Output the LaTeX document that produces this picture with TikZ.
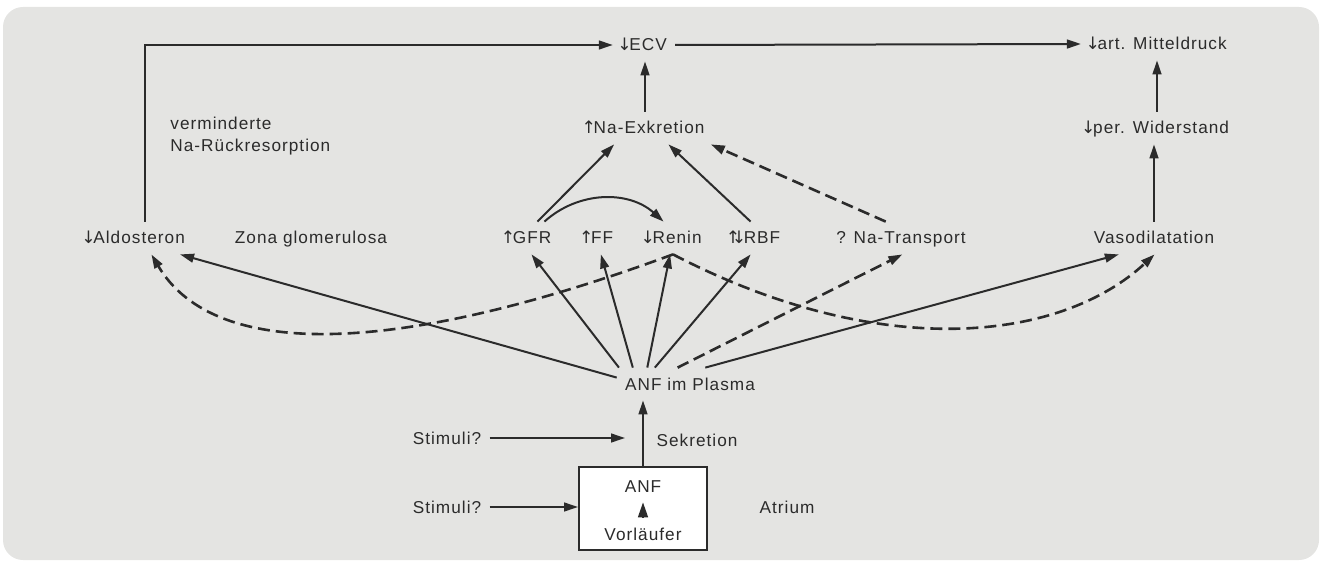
\documentclass[tikz,border=0pt]{standalone}
\usepackage{fontspec}
\setmainfont{Liberation Sans}[LetterSpace=6]
\newfontfamily\arrfont{DejaVu Sans}
\usetikzlibrary{arrows.meta}
\definecolor{bgcol}{HTML}{E4E4E2}
\definecolor{ink}{HTML}{2B2B2B}
\newcommand{\pfauf}{{\arrfont\kern-0.22em↑\kern-0.14em}}
\newcommand{\pfab}{{\arrfont\kern-0.22em↓\kern-0.14em}}
\tikzset{
  txt/.style={inner sep=4pt, text height=7pt, text depth=1pt, text=ink},
  arr/.style={draw=ink, line width=1pt, -{Triangle[length=7pt,width=4.4pt]}},
  darr/.style={arr, dash pattern=on 6pt off 3pt, line width=1.3pt},
}
\begin{document}
\begin{tikzpicture}[x=0.5pt, y=-0.5pt, font=\fontsize{8.6}{11}\selectfont]
	% Draw the background
	\useasboundingbox (0,0) rectangle (1325,566);
	\fill [bgcol, rounded corners=10pt] (3,7) rectangle (1319,560);

	% Draw the top row
	\node [txt] (ecv) at (644,45) {\pfab ECV};
	\node [txt] (druck) at (1158,44) {\pfab art. Mitteldruck};
	\node [txt] (naex) at (645,128) {\pfauf Na-Exkretion};
	\node [txt] (wider) at (1157,128) {\pfab per. Widerstand};
	\node [anchor=west, align=left, inner sep=0pt, text=ink] (rueck) at (170,136) {verminderte\\Na-Rückresorption};

	% Draw the middle row
	\node [txt] (aldo) at (135,238) {\pfab Aldosteron};
	\node [txt] (zona) at (311,238) {Zona glomerulosa};
	\node [txt] (gfr) at (528,238) {\pfauf GFR};
	\node [txt] (ff) at (598,238) {\pfauf FF};
	\node [txt] (renin) at (673,238) {\pfab Renin};
	\node [txt] (rbf) at (755,238) {{\arrfont\kern-0.22em↑\kern-0.5em↓\kern-0.14em}RBF};
	\node [txt] (natr) at (901,238) {? Na-Transport};
	\node [txt] (vaso) at (1154,238) {Vasodilatation};

	% Draw the bottom part
	\node [txt] (plasma) at (690,384) {ANF im Plasma};
	\node [txt] (sekr) at (697,440) {Sekretion};
	\node [txt] (stimA) at (447,438) {Stimuli?};
	\node [txt] (stimB) at (447,507) {Stimuli?};
	\node [draw=ink, line width=1pt, fill=white, minimum width=64pt, minimum height=41.5pt] (atr) at (643,508.5) {};
	\node [txt] (anf) at (643,486) {ANF};
	\node [txt] (vorl) at (643,534) {Vorläufer};
	\node [txt] (atrium) at (787,507) {Atrium};

	% Draw the upper arrows
	\draw [arr] ([xshift=5pt]aldo.north) |- (ecv.west);
	\draw [arr] (ecv.east) -- (druck.west);
	\draw [arr] (naex.north) -- (naex.north |- ecv.south);
	\draw [arr] (wider.north) -- (wider.north |- druck.south);
	\draw [arr] (vaso.north) -- (vaso.north |- wider.south);
	\draw [arr] (gfr.60) -- (naex.208);
	\draw [arr] (gfr.45) to[bend left=42] (renin.120);
	\draw [arr] (rbf.105) -- (naex.-35);
	\draw [darr] (natr.133) -- (naex.-14);

	% Draw the arrows from the plasma
	\draw [arr] (plasma.175) -- (aldo.-20);
	\draw [arr] (plasma.167) -- (gfr.-78);
	\draw [arr] (plasma.164) -- (ff.-80);
	\draw [arr] (plasma.159) -- (renin.-100);
	\draw [arr] (plasma.155) -- (rbf.-105);
	\draw [darr] (plasma.127) -- (natr.-85);
	\draw [arr] (plasma.47) -- (vaso.-155);

	% Draw the dashed curves from renin
	\draw [darr] (renin.-90) .. controls (400,355) and (215,362) .. (aldo.-45);
	\draw [darr] (renin.-90) .. controls (880,362) and (1060,342) .. (vaso.-88);

	% Draw the secretion
	\draw [arr] (stimA.east) -- ([xshift=-9pt]stimA.east -| atr.north);
	\draw [arr] (stimB.east) -- (stimB.east -| atr.west);
	\draw [arr] (atr.north) -- (atr.north |- plasma.south);
	\draw [ink, line width=0.8pt, -{Triangle[length=7.5pt,width=5pt]}] (vorl.north) -- (anf.south);
\end{tikzpicture}
\end{document}
